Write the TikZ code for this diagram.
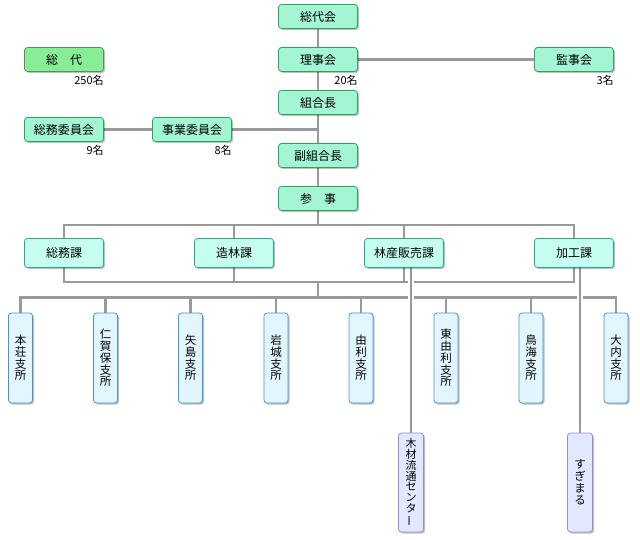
\documentclass[tikz,border=0pt]{standalone}
\usepackage{fontspec}
\setmainfont{Noto Sans CJK JP}
\usetikzlibrary{shadows,backgrounds}
\definecolor{topF}{HTML}{A3F5D3}
\definecolor{topB}{HTML}{28A850}
\definecolor{sodaiF}{HTML}{88EE96}
\definecolor{sodaiB}{HTML}{5B8F63}
\definecolor{secF}{HTML}{C6FFF0}
\definecolor{secB}{HTML}{2AAA8C}
\definecolor{brF}{HTML}{E2F6FF}
\definecolor{brB}{HTML}{4A90D9}
\definecolor{exF}{HTML}{E2E8FF}
\definecolor{exB}{HTML}{9A86E8}
\definecolor{lineC}{HTML}{999999}
\begin{document}
\begin{tikzpicture}[x=1pt,y=-1pt,
  base/.style={rectangle, rounded corners=3pt, line width=0.8pt, inner sep=0pt,
    drop shadow={shadow xshift=1.5pt,shadow yshift=-1.5pt,opacity=0.25,fill=black}},
  topbox/.style={base, draw=topB, fill=topF, minimum width=79pt, minimum height=24pt,
    font=\fontsize{12}{12}\selectfont},
  sodaibox/.style={topbox, draw=sodaiB, fill=sodaiF},
  secbox/.style={base, draw=secB, fill=secF, minimum width=79pt, minimum height=29pt,
    font=\fontsize{12}{12}\selectfont},
  brbox/.style={base, draw=brB, fill=brF, minimum width=24pt, minimum height=90pt,
    align=center, font=\fontsize{11.5}{11.7}\selectfont},
  exbox/.style={brbox, draw=exB, fill=exF, minimum width=25pt, minimum height=99pt},
  num/.style={anchor=north east, inner sep=0pt, yshift=-3pt, font=\fontsize{11}{11}\selectfont},
  conn/.style={draw=lineC, line width=2.1pt},
  halo/.style={preaction={draw=white, line width=6.5pt}}]
\useasboundingbox (0,0) rectangle (640,540);

% top
\node[topbox] (sodaikai) at (318,16.5) {総代会};
\node[sodaibox] (sodai) at (64,59.5) {総　代};
\node[topbox] (rijikai) at (318,59.5) {理事会};
\node[topbox] (kanjikai) at (574,59.5) {監事会};
\node[topbox] (kumiaicho) at (318,102.5) {組合長};
\node[topbox] (somuiin) at (64,129.5) {総務委員会};
\node[topbox] (jigyoiin) at (192,129.5) {事業委員会};
\node[topbox] (fukukumiaicho) at (318,155.5) {副組合長};
\node[topbox] (sanji) at (318,198.5) {参　事};

\node[num] (n250) at (sodai.south east) {250名};
\node[num] (n20) at (rijikai.south east) {20名};
\node[num] (n3) at (kanjikai.south east) {3名};
\node[num] (n9) at (somuiin.south east) {9名};
\node[num] (n8) at (jigyoiin.south east) {8名};

% sections
\node[secbox] (somuka) at (64,253) {総務課};
\node[secbox] (zorinka) at (234,253) {造林課};
\node[secbox] (rinsanka) at (404,253) {林産販売課};
\node[secbox] (kakoka) at (574,253) {加工課};

% branches
\node[brbox] (br1) at (20.5,358) {本\\荘\\支\\所};
\node[brbox] (br2) at (105.5,358) {仁\\賀\\保\\支\\所};
\node[brbox] (br3) at (190.5,358) {矢\\島\\支\\所};
\node[brbox] (br4) at (276,358) {岩\\城\\支\\所};
\node[brbox] (br5) at (361,358) {由\\利\\支\\所};
\node[brbox] (br6) at (446,358) {東\\由\\利\\支\\所};
\node[brbox] (br7) at (531,358) {鳥\\海\\支\\所};
\node[brbox] (br8) at (616,358) {大\\内\\支\\所};

\node[exbox, font=\fontsize{11}{10.8}\selectfont] (mokuzai) at (411,482.5) {木\\材\\流\\通\\セ\\ン\\タ\\\rotatebox[origin=c]{90}{ー}};
\node[exbox, font=\fontsize{11.5}{12}\selectfont] (sugimaru) at (580,482.5) {す\\ぎ\\ま\\る};

\coordinate (busA) at (318,225);
\coordinate (busB) at (318,282);
\coordinate (busC) at (318,297.5);
\coordinate (rsx) at ([xshift=7pt]rinsanka.south);
\coordinate (kkx) at ([xshift=6pt]kakoka.south);

\begin{pgfonlayer}{background}
\draw[conn] (sodaikai) -- (rijikai);
\draw[conn] (rijikai) -- (kumiaicho);
\draw[conn] (rijikai) -- (kanjikai);
\draw[conn] (kumiaicho) -- (fukukumiaicho);
\draw[conn] (somuiin) -- (jigyoiin);
\draw[conn] (jigyoiin.east) -- (jigyoiin.east -| kumiaicho.south);
\draw[conn] (fukukumiaicho) -- (sanji);
\draw[conn] (sanji.south) -- (busA);
\draw[conn] (somuka.north) -- (somuka.north |- busA) -- (kakoka.north |- busA) -- (kakoka.north);
\draw[conn] (zorinka.north) -- (zorinka.north |- busA);
\draw[conn] (rinsanka.north) -- (rinsanka.north |- busA);
\draw[conn] (somuka.south) -- (somuka.south |- busB) -- (kakoka.south |- busB) -- (kakoka.south);
\draw[conn] (zorinka.south) -- (zorinka.south |- busB);
\draw[conn] (rinsanka.south) -- (rinsanka.south |- busB);
\draw[conn] (busB) -- (busC);
\draw[conn] (br1.north) -- (br1.north |- busC) -- (br8.north |- busC) -- (br8.north);
\foreach \b in {br2,br3,br4,br5,br6,br7}
  \draw[conn] (\b.north) -- (\b.north |- busC);
\draw[conn,halo] (rsx) -- (mokuzai.north);
\draw[conn,halo] (kkx) -- (sugimaru.north);
\end{pgfonlayer}
\end{tikzpicture}
\end{document}
